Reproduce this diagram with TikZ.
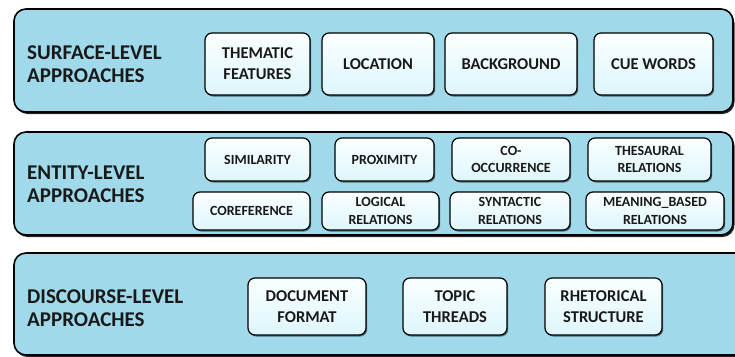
\documentclass[tikz,border=0pt]{standalone}
\usepackage{fontspec}
\setmainfont{Carlito}
\usetikzlibrary{shadows}

\definecolor{panelblue}{RGB}{160,218,234}
\definecolor{chiptop}{RGB}{250,255,255}
\definecolor{chipbot}{RGB}{222,246,252}
\definecolor{inkgrey}{RGB}{25,25,25}

\tikzset{
  panel/.style={draw=black, line width=1.6bp, fill=panelblue, rounded corners=12bp, inner sep=0pt,
    drop shadow={shadow xshift=1.5bp, shadow yshift=-2bp, opacity=0.85, fill=black}},
  chip/.style={draw=black, line width=1.2bp, top color=chiptop, bottom color=chipbot, rounded corners=7bp,
    align=center, inner sep=0pt, text=inkgrey, font=\bfseries\fontsize{16.5bp}{21bp}\selectfont,
    drop shadow={shadow xshift=1.2bp, shadow yshift=-1.5bp, opacity=0.5, fill=black}},
  smallchip/.style={chip, font=\bfseries\fontsize{14bp}{17.5bp}\selectfont},
  paneltitle/.style={anchor=west, align=left, text=inkgrey, inner sep=0pt,
    font=\bfseries\fontsize{21bp}{23bp}\selectfont}
}

\begin{document}
\begin{tikzpicture}[x=1bp,y=-1bp]
\useasboundingbox (0,0) rectangle (735,356);
\begin{scope}
\clip (0,0) rectangle (735,356);

% Panels
\node[panel, minimum width=719bp, minimum height=103bp] (surface) at (373.5,60.5) {};
\node[panel, minimum width=719bp, minimum height=103bp] (entity) at (373.5,183.5) {};
\node[panel, minimum width=740bp, minimum height=102bp] (discourse) at (384,304) {};

% Panel titles
\node[paneltitle] (surfacetitle) at (27,64) {SURFACE-LEVEL\\APPROACHES};
\node[paneltitle] (entitytitle) at (27,184) {ENTITY-LEVEL\\APPROACHES};
\node[paneltitle] (discoursetitle) at (27,308) {DISCOURSE-LEVEL\\APPROACHES};

% Surface-level
\node[chip, minimum width=105bp, minimum height=62bp] (thematic) at (257.5,64) {THEMATIC\\FEATURES};
\node[chip, minimum width=112bp, minimum height=62bp] (location) at (378,64) {LOCATION};
\node[chip, minimum width=132bp, minimum height=62bp] (background) at (511,64) {BACKGROUND};
\node[chip, minimum width=119bp, minimum height=62bp] (cuewords) at (653.5,64) {CUE WORDS};

% Entity-level, first row
\node[smallchip, minimum width=105bp, minimum height=43bp] (similarity) at (257.5,159.5) {SIMILARITY};
\node[smallchip, minimum width=99bp, minimum height=43bp] (proximity) at (384.5,159.5) {PROXIMITY};
\node[smallchip, minimum width=118bp, minimum height=43bp] (cooccurrence) at (511,159.5) {CO-\\OCCURRENCE};
\node[smallchip, minimum width=123bp, minimum height=43bp] (thesaural) at (649.5,159.5) {THESAURAL\\RELATIONS};

% Entity-level, second row
\node[smallchip, minimum width=117bp, minimum height=38bp] (coreference) at (251.5,211) {COREFERENCE};
\node[smallchip, minimum width=117bp, minimum height=38bp] (logical) at (380.5,211) {LOGICAL\\RELATIONS};
\node[smallchip, minimum width=120bp, minimum height=38bp] (syntactic) at (510,211) {SYNTACTIC\\RELATIONS};
\node[smallchip, minimum width=138bp, minimum height=38bp] (meaning) at (655,211) {MEANING\_BASED\\RELATIONS};

% Discourse-level
\node[chip, minimum width=118bp, minimum height=57bp] (docformat) at (307,306.5) {DOCUMENT\\FORMAT};
\node[chip, minimum width=104bp, minimum height=57bp] (topic) at (455,306.5) {TOPIC\\THREADS};
\node[chip, minimum width=117bp, minimum height=57bp] (rhetorical) at (603.5,306.5) {RHETORICAL\\STRUCTURE};

\end{scope}
\end{tikzpicture}
\end{document}
